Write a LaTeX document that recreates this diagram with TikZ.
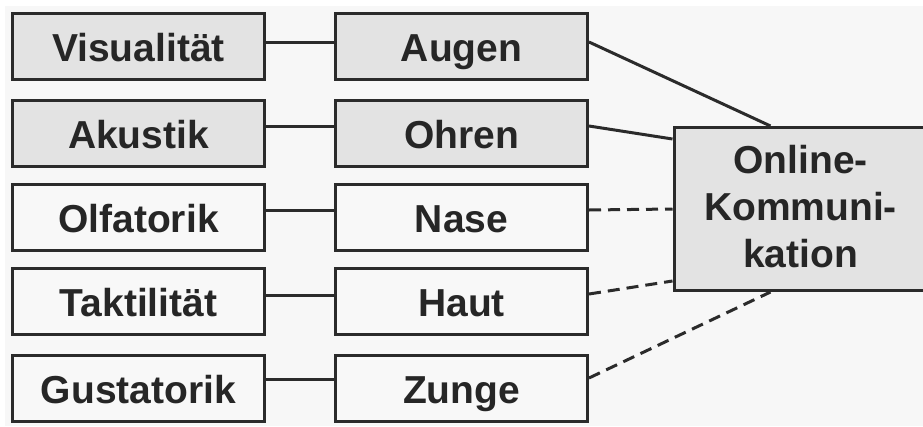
\documentclass[tikz,border=0pt]{standalone}
\usepackage{fontspec}
\setmainfont{Liberation Sans}
\definecolor{bgc}{HTML}{F7F7F7}
\definecolor{boxgray}{HTML}{E3E3E3}
\definecolor{boxwhite}{HTML}{F8F8F8}
\definecolor{ink}{HTML}{2B2B2B}
\definecolor{txt}{HTML}{262626}
\tikzset{
  sbox/.style={draw=ink, line width=3pt, minimum width=252pt, minimum height=66pt,
    inner sep=0pt, text=txt, font=\bfseries\fontsize{39}{47}\selectfont, anchor=center},
  rowtext/.style={text height=37pt, text depth=7pt},
  graybox/.style={sbox, rowtext, fill=boxgray},
  whitebox/.style={sbox, rowtext, fill=boxwhite},
  conn/.style={draw=ink, line width=3pt},
  dconn/.style={conn, dash pattern=on 12pt off 7pt},
}
\begin{document}
\begin{tikzpicture}[x=1pt,y=-1pt]
\useasboundingbox (0,0) rectangle (923,426);
\clip (0,0) rectangle (923,426);
\fill[white] (0,0) rectangle (923,426);
\fill[bgc] (4.5,5.5) rectangle (923,426);
% left column
\node[graybox]  (vis) at (138.5,46)  {Visualität};
\node[graybox]  (aku) at (138.5,133) {Akustik};
\node[whitebox] (olf) at (138.5,217) {Olfatorik};
\node[whitebox] (tak) at (138.5,301) {Taktilität};
\node[whitebox] (gus) at (138.5,388) {Gustatorik};
% middle column
\node[graybox]  (aug) at (461.5,46)  {Augen};
\node[graybox]  (ohr) at (461.5,133) {Ohren};
\node[whitebox] (nas) at (461.5,217) {Nase};
\node[whitebox] (hau) at (461.5,301) {Haut};
\node[whitebox] (zun) at (461.5,388) {Zunge};
% right box
\node[sbox, fill=boxgray, minimum width=253pt, minimum height=163pt, align=center,
  text depth=6pt] (onl) at (800.5,209)
  {Online-\\Kommuni-\\kation};
% horizontal connectors
\draw[conn] ([yshift=4pt]vis.east) -- ([yshift=4pt]aug.west);
\draw[conn] ([yshift=7pt]aku.east) -- ([yshift=7pt]ohr.west);
\draw[conn] ([yshift=7pt]olf.east) -- ([yshift=7pt]nas.west);
\draw[conn] ([yshift=6pt]tak.east) -- ([yshift=6pt]hau.west);
\draw[conn] ([yshift=9pt]gus.east) -- ([yshift=9pt]zun.west);
% connectors to right box
\draw[conn]  ([yshift=4pt]aug.east) -- ([xshift=-30pt]onl.north);
\draw[conn]  ([yshift=7pt]ohr.east) -- ([yshift=70pt]onl.west);
\draw[dconn] ([yshift=7pt]nas.east) -- ([yshift=0pt]onl.west);
\draw[dconn] ([yshift=7pt]hau.east) -- ([yshift=-72pt]onl.west);
\draw[dconn] ([yshift=10pt]zun.east) -- ([xshift=-30pt]onl.south);
\end{tikzpicture}
\end{document}
